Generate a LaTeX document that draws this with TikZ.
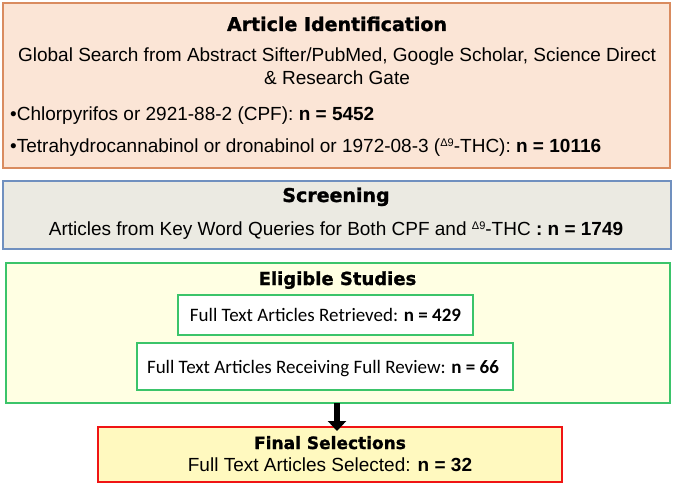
\documentclass[tikz,border=0pt]{standalone}
\usepackage{fontspec}
\setmainfont{Liberation Sans}
\newfontfamily\titlefont{DejaVu Sans}[BoldFeatures={FakeBold=1.2}]
\newfontfamily\calfont{Carlito}
\usetikzlibrary{arrows.meta}
\definecolor{orfill}{HTML}{FBE5D6}
\definecolor{ordraw}{HTML}{D98B5F}
\definecolor{grfill}{HTML}{EBEAE2}
\definecolor{bldraw}{HTML}{7090BF}
\definecolor{yefill}{HTML}{FFFFE3}
\definecolor{gndraw}{HTML}{3BC46A}
\definecolor{fifill}{HTML}{FFF9BF}
\definecolor{rddraw}{HTML}{F01414}
\newcommand{\dnine}{\raisebox{6pt}{\fontsize{11}{11}\selectfont Δ9}}
\tikzset{
  box/.style={draw, line width=2pt, inner sep=0pt, outer sep=0pt},
  ttl/.style={anchor=base, inner sep=0pt, font=\titlefont\bfseries\fontsize{19}{19}\selectfont},
  txt/.style={anchor=base, inner sep=0pt, font=\fontsize{19}{19}\selectfont},
  ctxt/.style={anchor=base, inner sep=0pt, font=\calfont\fontsize{19}{19}\selectfont},
  blockarrow/.style={line width=6pt, -{Triangle[width=18pt,length=10pt]}}
}
\begin{document}
\begin{tikzpicture}[x=1pt,y=-1pt]
\useasboundingbox (0,0) rectangle (674,486);
\fill[white] (0,0) rectangle (674,486);
% boxes
\node[box, draw=ordraw, fill=orfill, minimum width=667pt, minimum height=165pt] (b1) at (336.5,85.5) {};
\node[box, draw=bldraw, fill=grfill, minimum width=668pt, minimum height=68pt] (b2) at (337,215) {};
\node[box, draw=gndraw, fill=yefill, minimum width=664pt, minimum height=140pt] (b3) at (338,333) {};
\node[box, draw=gndraw, fill=white, minimum width=295pt, minimum height=40pt] (i1) at (325.5,315) {};
\node[box, draw=gndraw, fill=white, minimum width=376pt, minimum height=47pt] (i2) at (325,366.5) {};
\node[box, draw=rddraw, line width=2.5pt, fill=fifill, minimum width=464pt, minimum height=55pt] (fin) at (330,454.5) {};
% texts
\node[ttl] (t1) at (337,31) {Article Identification};
\node[txt] (g1) at (337,62) {Global Search from Abstract Sifter/PubMed, Google Scholar, Science Direct};
\node[txt] (g2) at (337,85) {\& Research Gate};
\node[txt, anchor=base west] (c1) at (10,121) {•Chlorpyrifos or 2921-88-2 (CPF): \textbf{n = 5452}};
\node[txt, anchor=base west] (c2) at (10,153) {•Tetrahydrocannabinol or dronabinol or 1972-08-3 (\dnine-THC): \textbf{n = 10116}};
\node[ttl] (t2) at (336,202) {Screening};
\node[txt] (s1) at (336,236) {Articles from Key Word Queries for Both CPF and \dnine-THC \textbf{: n = 1749}};
\node[ttl, font=\titlefont\bfseries\fontsize{18}{18}\selectfont] (t3) at (337.5,285) {Eligible Studies};
\node[ctxt] (r1) at (325.5,321) {Full Text Articles Retrieved: \textbf{n = 429}};
\node[ctxt] (r2) at (323,373) {Full Text Articles Receiving Full Review: \textbf{n = 66}};
\node[ttl, font=\titlefont\bfseries\fontsize{17}{17}\selectfont] (t4) at (330,449) {Final Selections};
\node[txt] (f1) at (330,471) {Full Text Articles Selected: \textbf{n = 32}};
% arrow
\coordinate (ax) at (337,0);
\draw[blockarrow] (b3.south -| ax) -- ([yshift=-4pt]fin.north -| ax);
\end{tikzpicture}
\end{document}
